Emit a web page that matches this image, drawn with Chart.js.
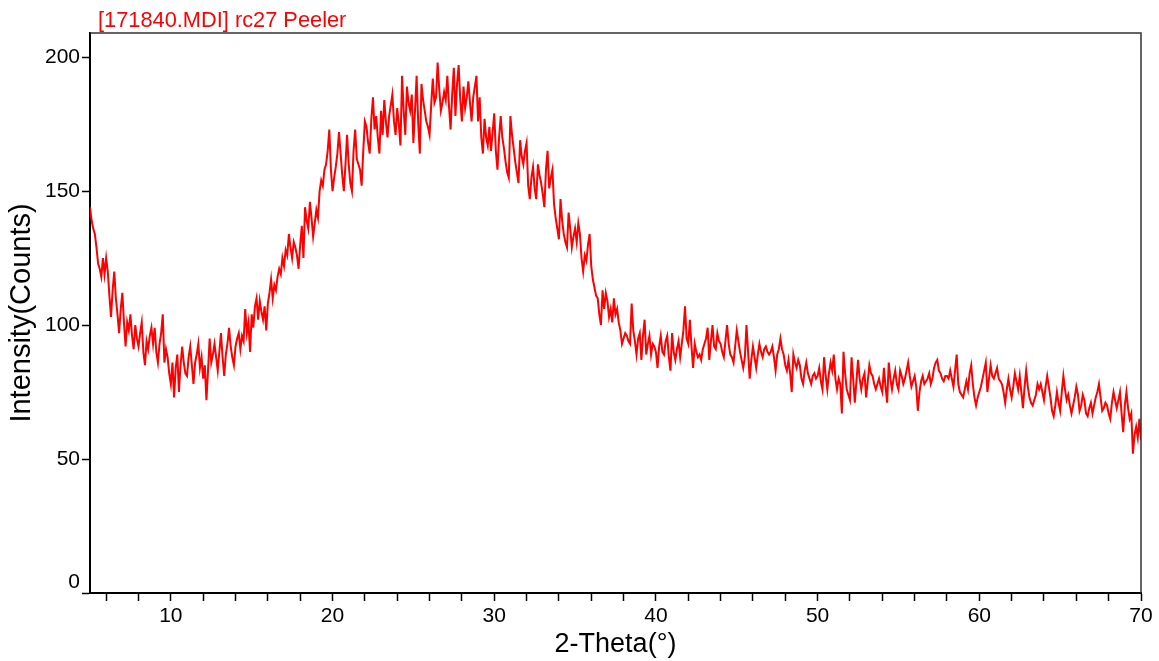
<!DOCTYPE html>
<html>
<head>
<meta charset="utf-8">
<title>171840.MDI rc27 Peeler</title>
<script src="https://cdn.jsdelivr.net/npm/chart.js@4.4.1/dist/chart.umd.min.js"></script>
<style>
  html, body { margin: 0; padding: 0; background: #fff; }
  #wrap { width: 1159px; height: 661px; position: relative; }
</style>
</head>
<body>
<div id="wrap"><canvas id="xrd"></canvas></div>
<script>
// scan settings: 2-theta from 5 to 70 deg, 0.1 deg per step
const thetaStart = 5;
const thetaStep = 0.1;

// intensity (counts), one row per degree (x.0 .. x.9)
const counts = [
  144, 139, 136, 134, 129, 123, 121, 118, 125, 119, // 5
  125, 120, 111, 103, 113, 120, 110, 104, 97, 106,  // 6
  112, 101, 92, 101, 98, 104, 96, 91, 100, 95,      // 7
  92, 97, 101, 90, 85, 94, 91, 96, 99, 93,          // 8
  99, 90, 86, 93, 97, 104, 86, 91, 88, 82,          // 9
  78, 86, 73, 84, 89, 75, 85, 92, 86, 82,           // 10
  81, 88, 92, 85, 78, 86, 89, 93, 84, 88,           // 11
  80, 85, 72, 83, 95, 86, 89, 93, 88, 83,           // 12
  90, 97, 88, 81, 89, 93, 99, 92, 88, 85,           // 13
  92, 95, 97, 91, 96, 94, 106, 97, 101, 90,         // 14
  104, 99, 107, 110, 102, 109, 105, 102, 107, 98,   // 15
  108, 112, 117, 110, 115, 113, 118, 121, 119, 125, // 16
  122, 128, 126, 134, 129, 125, 131, 129, 126, 121, // 17
  130, 137, 125, 144, 139, 136, 146, 140, 133, 138, // 18
  143, 140, 150, 154, 152, 158, 160, 165, 173, 158, // 19
  150, 155, 159, 164, 172, 164, 156, 150, 160, 171, // 20
  160, 153, 150, 165, 173, 162, 160, 158, 152, 165, // 21
  176, 174, 168, 164, 177, 185, 173, 178, 170, 164, // 22
  180, 171, 184, 176, 170, 178, 182, 186, 176, 171, // 23
  181, 175, 167, 193, 180, 171, 189, 183, 180, 186, // 24
  168, 180, 193, 175, 164, 190, 184, 180, 176, 174, // 25
  171, 182, 192, 183, 185, 198, 188, 180, 183, 187, // 26
  184, 193, 182, 173, 186, 196, 178, 190, 197, 184, // 27
  176, 189, 181, 185, 191, 183, 176, 185, 189, 193, // 28
  176, 185, 170, 164, 177, 170, 167, 174, 165, 172, // 29
  179, 165, 158, 170, 178, 170, 166, 161, 157, 155, // 30
  178, 171, 166, 161, 157, 153, 169, 163, 160, 165, // 31
  168, 152, 147, 155, 159, 151, 147, 160, 156, 153, // 32
  149, 144, 158, 165, 151, 155, 158, 145, 140, 136, // 33
  132, 147, 139, 134, 131, 129, 142, 136, 129, 133, // 34
  136, 131, 138, 134, 125, 120, 126, 124, 130, 134, // 35
  122, 117, 114, 111, 110, 104, 100, 113, 106, 112, // 36
  109, 103, 106, 101, 110, 104, 106, 101, 98, 93,   // 37
  95, 97, 96, 94, 93, 108, 98, 94, 89, 95,          // 38
  97, 87, 96, 102, 89, 93, 96, 89, 93, 92,          // 39
  90, 84, 92, 96, 90, 89, 94, 96, 88, 83,           // 40
  97, 90, 87, 91, 94, 88, 93, 98, 107, 95,          // 41
  93, 102, 92, 84, 93, 90, 88, 89, 87, 91,          // 42
  93, 95, 99, 87, 94, 100, 92, 91, 97, 94,          // 43
  93, 90, 88, 94, 100, 93, 89, 88, 86, 92,          // 44
  98, 94, 90, 87, 84, 88, 100, 90, 80, 87,          // 45
  92, 88, 84, 89, 93, 90, 88, 91, 92, 90,           // 46
  89, 90, 92, 88, 83, 89, 91, 95, 91, 89,           // 47
  85, 83, 87, 82, 75, 89, 86, 84, 87, 85,           // 48
  80, 78, 83, 86, 82, 80, 78, 81, 82, 80,           // 49
  81, 84, 79, 76, 88, 81, 76, 82, 86, 83,           // 50
  89, 80, 76, 80, 78, 67, 90, 82, 76, 74,           // 51
  72, 88, 80, 71, 79, 87, 80, 76, 80, 82,           // 52
  73, 79, 85, 82, 81, 78, 76, 78, 80, 77,           // 53
  75, 84, 77, 71, 86, 80, 76, 80, 83, 78,           // 54
  76, 83, 81, 78, 80, 83, 86, 81, 77, 79,           // 55
  81, 77, 68, 75, 79, 81, 78, 79, 80, 82,           // 56
  78, 80, 84, 86, 87, 83, 82, 80, 79, 81,           // 57
  81, 80, 83, 80, 77, 83, 89, 78, 75, 74,           // 58
  73, 76, 79, 76, 82, 85, 78, 73, 70, 73,           // 59
  75, 77, 80, 83, 86, 75, 80, 85, 81, 80,           // 60
  82, 84, 80, 79, 78, 75, 71, 76, 80, 76,           // 61
  73, 77, 82, 79, 76, 81, 75, 69, 77, 83,           // 62
  77, 73, 71, 70, 72, 74, 78, 76, 78, 75,           // 63
  72, 77, 81, 77, 73, 68, 66, 70, 75, 71,           // 64
  68, 75, 81, 76, 72, 74, 70, 67, 70, 73,           // 65
  77, 74, 68, 70, 74, 72, 67, 66, 69, 71,           // 66
  67, 70, 73, 75, 78, 73, 68, 69, 71, 70,           // 67
  67, 65, 71, 75, 72, 69, 72, 75, 67, 60,           // 68
  70, 75, 69, 65, 67, 52, 59, 62, 58, 65,           // 69
  57                                                // 70
];

const xTicks = [6, 8, 10, 12, 14, 16, 18, 20, 22, 24, 26, 28, 30, 32, 34, 36, 38,
  40, 42, 44, 46, 48, 50, 52, 54, 56, 58, 60, 62, 64, 66, 68, 70];
const xLabelTicks = [10, 20, 30, 40, 50, 60, 70];
const yTicks = [0, 50, 100, 150, 200];

const titleText = "[171840.MDI] rc27 Peeler";
const xTitle = "2-Theta(\u00B0)";
const yTitle = "Intensity(Counts)";

const fontFamily = "'Liberation Sans', Arial, sans-serif";

const points = counts.map((c, i) => ({
  x: +(thetaStart + i * thetaStep).toFixed(1),
  y: c,
}));

// red sample name above the plot, thin top/right frame,
// and the "0" label which sits a bit above the bottom axis
const framePlugin = {
  id: "frame",
  afterDraw(chart) {
    const { ctx, chartArea } = chart;
    const yScale = chart.scales.y;
    ctx.save();
    ctx.strokeStyle = "#333";
    ctx.lineWidth = 1.5;
    ctx.beginPath();
    ctx.moveTo(chartArea.left, chartArea.top);
    ctx.lineTo(chartArea.right, chartArea.top);
    ctx.lineTo(chartArea.right, chartArea.bottom);
    ctx.stroke();

    ctx.fillStyle = "#ff0000";
    ctx.font = "21.8px " + fontFamily;
    ctx.textBaseline = "alphabetic";
    ctx.textAlign = "left";
    ctx.fillText(titleText, chartArea.left + 8, 27);

    ctx.fillStyle = "#000";
    ctx.font = "21px " + fontFamily;
    ctx.textAlign = "right";
    ctx.textBaseline = "middle";
    ctx.fillText(String(yTicks[0]), chartArea.left - 10, yScale.getPixelForValue(yTicks[0]) - 11);
    ctx.restore();
  },
};

new Chart(document.getElementById("xrd"), {
  type: "line",
  data: {
    datasets: [
      {
        data: points,
        borderColor: "#ff0000",
        borderWidth: 2,
        pointRadius: 0,
        tension: 0,
        fill: false,
      },
    ],
  },
  options: {
    responsive: true,
    maintainAspectRatio: false,
    animation: false,
    layout: { padding: { top: 33, right: 18, left: 0, bottom: 0 } },
    plugins: {
      legend: { display: false },
      tooltip: { enabled: false },
    },
    scales: {
      x: {
        type: "linear",
        min: 5,
        max: 70,
        afterBuildTicks: (scale) => {
          scale.ticks = xTicks.map((v) => ({ value: v }));
        },
        afterFit: (scale) => {
          scale.height = 68;
        },
        ticks: {
          autoSkip: false,
          maxRotation: 0,
          padding: 3,
          color: "#000",
          font: { family: fontFamily, size: 21 },
          callback: (v) => (xLabelTicks.includes(v) ? String(v) : ""),
        },
        grid: {
          drawOnChartArea: false,
          drawTicks: true,
          tickLength: 8,
          tickColor: "#000",
          tickWidth: 1.5,
        },
        border: { display: true, color: "#000", width: 2 },
        title: {
          display: true,
          text: xTitle,
          color: "#000",
          font: { family: fontFamily, size: 27 },
          padding: { top: 0, bottom: 0 },
        },
      },
      y: {
        type: "linear",
        min: 0,
        max: 209,
        afterBuildTicks: (scale) => {
          scale.ticks = yTicks.map((v) => ({ value: v }));
        },
        afterFit: (scale) => {
          scale.width = 90;
        },
        ticks: {
          padding: 2,
          color: "#000",
          font: { family: fontFamily, size: 21 },
          // the zero label is drawn by the frame plugin, nudged upward
          callback: (v) => (v === yTicks[0] ? "" : String(v)),
        },
        grid: {
          drawOnChartArea: false,
          drawTicks: true,
          tickLength: 8,
          tickColor: "#000",
          tickWidth: 1.5,
        },
        border: { display: true, color: "#000", width: 2 },
        title: {
          display: true,
          text: yTitle,
          color: "#000",
          font: { family: fontFamily, size: 29 },
          padding: { top: 5, bottom: 0 },
        },
      },
    },
  },
  plugins: [framePlugin],
});
</script>
</body>
</html>
